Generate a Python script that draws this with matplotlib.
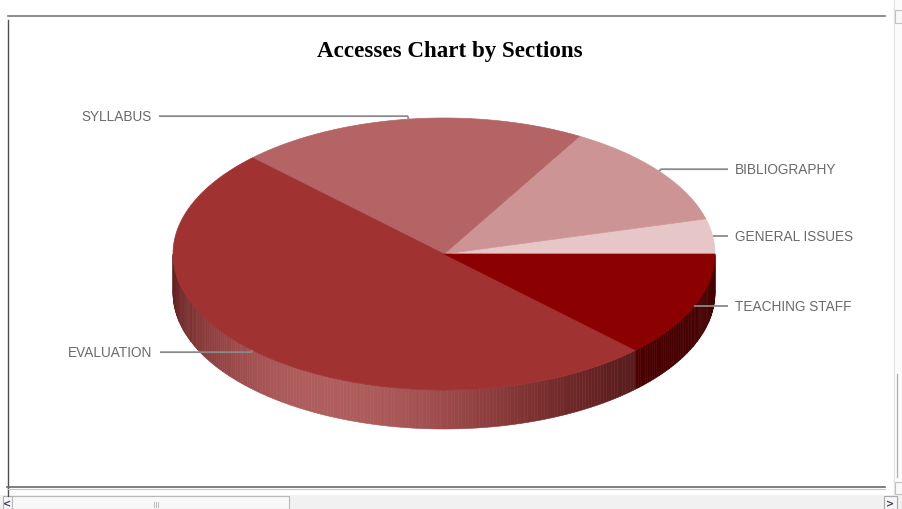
import numpy as np
import matplotlib
matplotlib.use("Agg")
import matplotlib.pyplot as plt
from matplotlib.patches import Polygon, Rectangle

# ---- data -------------------------------------------------------------
sections = ["GENERAL ISSUES", "BIBLIOGRAPHY", "SYLLABUS", "EVALUATION", "TEACHING STAFF"]
accesses = [2, 6, 10, 24, 6]
slice_colors = ["#e6c6c6", "#cc9494", "#b46464", "#a03232", "#8b0000"]
title = "Accesses Chart by Sections"

# ---- layout (pixel space) ---------------------------------------------
W, H = 902, 510
CX, CY = 444, 255        # centre of the top face
RX, RY = 271, 136        # ellipse radii of the top face
DEPTH = 39               # thickness of the pie
LIGHT_DIR = 245.0        # angle of the side highlight (deg)

fig = plt.figure(figsize=(W / 100, H / 100), dpi=100)
ax = fig.add_axes([0, 0, 1, 1])
ax.set_xlim(0, W)
ax.set_ylim(H, 0)
ax.axis("off")


def pt(theta_deg, drop=0.0, scale=1.0):
    t = np.radians(theta_deg)
    return CX + scale * RX * np.cos(t), CY - scale * RY * np.sin(t) + drop


def shade(hex_color, theta):
    base = np.array(matplotlib.colors.to_rgb(hex_color))
    L = max(np.cos(np.radians(theta - LIGHT_DIR)), 0.0) ** 2
    c = base * (0.5 + 0.45 * L)
    w = 0.22 * L ** 2
    return tuple(c * (1 - w) + w)


# slice angles from the values (counter-clockwise from 3 o'clock)
vals = np.asarray(accesses, dtype=float)
bounds = np.concatenate([[0.0], np.cumsum(vals) / vals.sum() * 360.0])

# side wall: only the front half (180..360 deg) is visible
for i, col in enumerate(slice_colors):
    a0, a1 = max(bounds[i], 180.0), min(bounds[i + 1], 360.0)
    if a1 <= a0:
        continue
    n = max(int((a1 - a0) / 0.75), 1)
    edges = np.linspace(a0, a1, n + 1)
    for t0, t1 in zip(edges[:-1], edges[1:]):
        fc = shade(col, 0.5 * (t0 + t1))
        ts = np.linspace(t0, t1, 4)
        top = [pt(t) for t in ts]
        bot = [pt(t, DEPTH) for t in ts[::-1]]
        ax.add_patch(Polygon(top + bot, closed=True, facecolor=fc,
                             edgecolor=fc, lw=0.4, zorder=2))

# top face
for i, col in enumerate(slice_colors):
    ts = np.linspace(bounds[i], bounds[i + 1], 120)
    verts = [(CX, CY)] + [pt(t) for t in ts]
    ax.add_patch(Polygon(verts, closed=True, facecolor=col, edgecolor=col,
                         lw=0.5, zorder=3))

# labels with leader lines
label_dy = [0, -2, -3, 2, 0]
for i, name in enumerate(sections):
    mid = 0.5 * (bounds[i] + bounds[i + 1])
    x0, y0 = pt(mid)
    ly = y0 + label_dy[i]
    right = np.cos(np.radians(mid)) >= 0
    if right:
        xs, tx, ha = [x0, x0 + 2, 728], 735, "left"
    else:
        xs, tx, ha = [x0, x0 - 1, 159 if i == 2 else 160], 152, "right"
    ax.plot(xs, [y0, ly, ly], color="#8a8a8a", lw=1.3, zorder=4,
            solid_capstyle="butt")
    ax.text(tx, ly, name, ha=ha, va="center", fontsize=9.8,
            family="Liberation Sans", color="#6a6a6a", zorder=5)

ax.text(449.5, 52, title, ha="center", va="center", fontsize=16.6,
        family="Liberation Serif", weight="bold", color="black")

# ---- surrounding window frame -----------------------------------------
ax.plot([8, 885], [17, 17], color="#7a7a7a", lw=1.2)
ax.plot([8, 8], [21, 497], color="#505050", lw=1.0)
ax.plot([7, 885], [488, 488], color="#6a6a6a", lw=1.2)
ax.plot([7, 885], [489.8, 489.8], color="#c8c8c8", lw=0.8)

# horizontal scrollbar
ax.add_patch(Rectangle((0, 496), W, 14, facecolor="#f1f1f1", edgecolor="none"))
ax.add_patch(Rectangle((3, 497), 9, 13, facecolor="#f6f6f6", edgecolor="#b0b0b0", lw=0.8))
ax.text(7.5, 504, "<", ha="center", va="center", fontsize=7, color="#404060", weight="bold")
ax.add_patch(Rectangle((12, 497), 277, 13, facecolor="#f8f8f8", edgecolor="#b8b8b8", lw=0.8))
for gx in (153.5, 155.5, 157.5):
    ax.plot([gx, gx], [503, 508], color="#b0b0b0", lw=0.6)
ax.add_patch(Rectangle((884, 497), 13, 13, facecolor="#f6f6f6", edgecolor="#a8a8a8", lw=0.8))
ax.text(890.5, 504, ">", ha="center", va="center", fontsize=7, color="#404060", weight="bold")

# vertical scrollbar edge
ax.add_patch(Rectangle((893, 0), 9, 496, facecolor="#fbfbfb", edgecolor="none"))
ax.plot([893.5, 893.5], [0, 496], color="#e4e4e4", lw=0.8)
ax.add_patch(Rectangle((895, 11), 8, 13, facecolor="#f8f8f8", edgecolor="#c0c0c0", lw=0.8))
ax.plot([897, 897], [375, 478], color="#b0b0b0", lw=0.9)
ax.add_patch(Rectangle((895, 483), 8, 12, facecolor="#f8f8f8", edgecolor="#c0c0c0", lw=0.8))

fig.savefig("out.png", dpi=100)
